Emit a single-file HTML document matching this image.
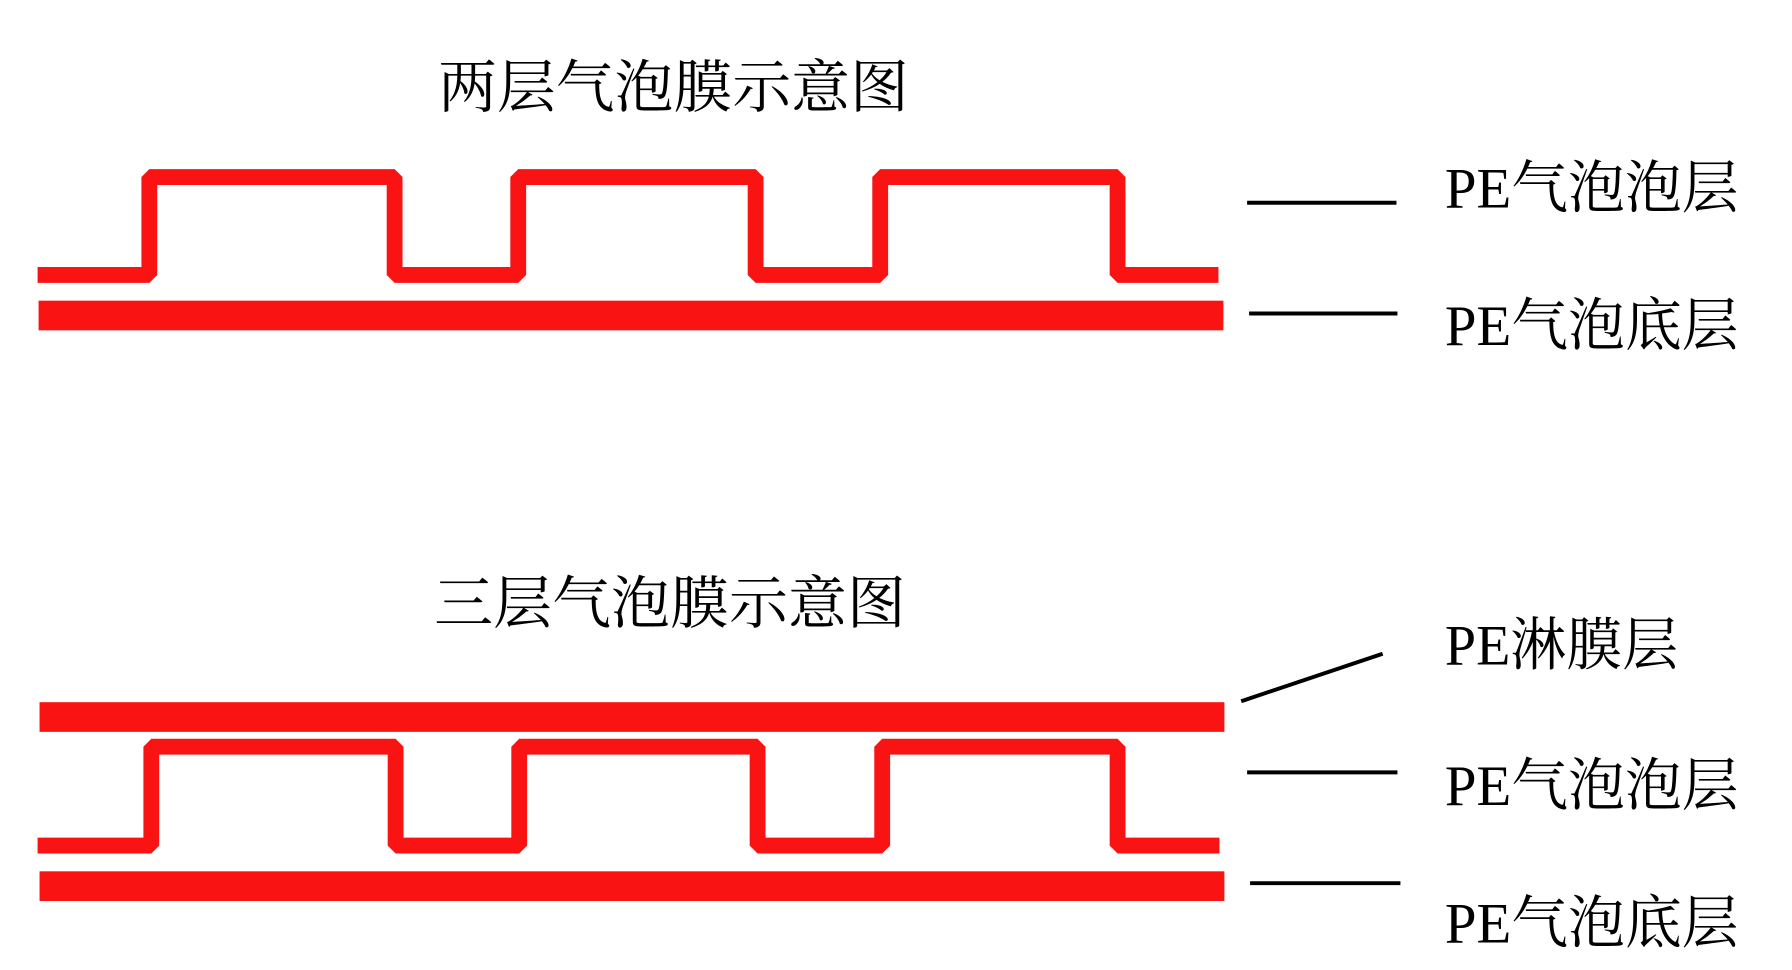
<!DOCTYPE html>
<html><head><meta charset="utf-8"><style>html,body{margin:0;padding:0;background:#fff;}svg{display:block}</style></head>
<body>
<svg width="1792" height="970" viewBox="0 0 1792 970" xmlns="http://www.w3.org/2000/svg">
<g transform="scale(0.989)">
<g font-family="'Liberation Serif','Noto Serif CJK SC',serif" fill="#000">
<text x="443" y="108" font-size="58" textLength="476" lengthAdjust="spacingAndGlyphs">两层气泡膜示意图</text>
<text x="439" y="630" font-size="58" textLength="477" lengthAdjust="spacingAndGlyphs">三层气泡膜示意图</text>
<text x="1461" y="210" font-size="58" textLength="297" lengthAdjust="spacingAndGlyphs">PE气泡泡层</text>
<text x="1461" y="349" font-size="58" textLength="297" lengthAdjust="spacingAndGlyphs">PE气泡底层</text>
<text x="1461" y="672" font-size="58" textLength="236" lengthAdjust="spacingAndGlyphs">PE淋膜层</text>
<text x="1461" y="814" font-size="58" textLength="297" lengthAdjust="spacingAndGlyphs">PE气泡泡层</text>
<text x="1461" y="953" font-size="58" textLength="297" lengthAdjust="spacingAndGlyphs">PE气泡底层</text>
</g>
<g fill="none" stroke="#f91313" stroke-width="16" stroke-linejoin="bevel">
<polyline points="38,278 151,278 151,179 399,179 399,278 524,278 524,179 764,179 764,278 890,278 890,179 1130,179 1130,278 1232,278"/>
<polyline points="38,855 153,855 153,755 400,755 400,855 525,855 525,755 766,755 766,855 892,855 892,755 1130,755 1130,855 1233,855"/>
</g>
<g fill="#f91313">
<rect x="39" y="304" width="1198" height="30"/>
<rect x="40" y="710" width="1198" height="30"/>
<rect x="40" y="881" width="1198" height="30"/>
</g>
<g stroke="#000" stroke-width="4">
<line x1="1261" y1="205" x2="1412" y2="205"/>
<line x1="1263" y1="317" x2="1413" y2="317"/>
<line x1="1255" y1="709" x2="1398" y2="661"/>
<line x1="1261" y1="781" x2="1413" y2="781"/>
<line x1="1264" y1="893" x2="1416" y2="893"/>
</g>
</g>
</svg>
</body></html>
